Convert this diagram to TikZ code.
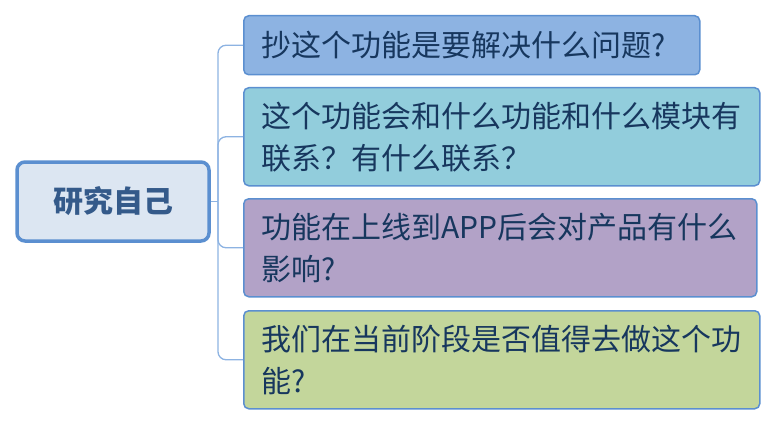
\documentclass[tikz,border=0pt]{standalone}
\usepackage{fontspec}
\newfontfamily\cjk{Noto Sans CJK SC}
\definecolor{edge}{HTML}{5B8FD0}
\definecolor{conncol}{HTML}{8DB3E2}
\definecolor{txt}{HTML}{17375E}
\definecolor{ctxt}{HTML}{345A8A}
\definecolor{cfill}{HTML}{DCE6F2}
\definecolor{fa}{HTML}{8DB3E2}
\definecolor{fb}{HTML}{92CDDC}
\definecolor{fc}{HTML}{B2A2C7}
\definecolor{fd}{HTML}{C3D69B}
\tikzset{
  topicbox/.style={draw=edge, line width=1.5pt, rounded corners=5pt, anchor=north west,
    inner xsep=18pt, inner ysep=0pt, align=left, text=txt,
    font=\cjk\fontsize{30}{42}\selectfont},
  centerbox/.style={draw=edge, line width=3.5pt, rounded corners=8pt, fill=cfill,
    minimum width=192pt, minimum height=79pt, text=ctxt,
    font=\cjk\bfseries\fontsize{30}{36}\selectfont},
  conn/.style={draw=conncol, line width=1.3pt}
}
\begin{document}
\begin{tikzpicture}[x=1pt,y=-1pt]
\useasboundingbox (0,0) rectangle (776,425);
\node[centerbox] (c) at (113,201.5) {研究自己};
\node[topicbox, fill=fa, minimum width=456pt, minimum height=59pt, text width=420pt] (b1) at (243,15) {抄这个功能是要解决什么问题?};
\node[topicbox, fill=fb, minimum width=516pt, minimum height=98pt, text width=480pt] (b2) at (243,87) {这个功能会和什么功能和什么模块有\\联系？有什么联系？};
\node[topicbox, fill=fc, minimum width=513pt, minimum height=98pt, text width=477pt] (b3) at (243,198) {功能在上线到APP后会对产品有什么\\影响?};
\node[topicbox, fill=fd, minimum width=516pt, minimum height=98pt, text width=480pt] (b4) at (243,310) {我们在当前阶段是否值得去做这个功\\能?};
\coordinate (jn) at (218,201.5);
\draw[conn] (c.east) -- (jn);
\foreach \b in {b1,b2,b3,b4}{
  \draw[conn, rounded corners=8pt] (jn) |- (\b.west);
}
\end{tikzpicture}
\end{document}
